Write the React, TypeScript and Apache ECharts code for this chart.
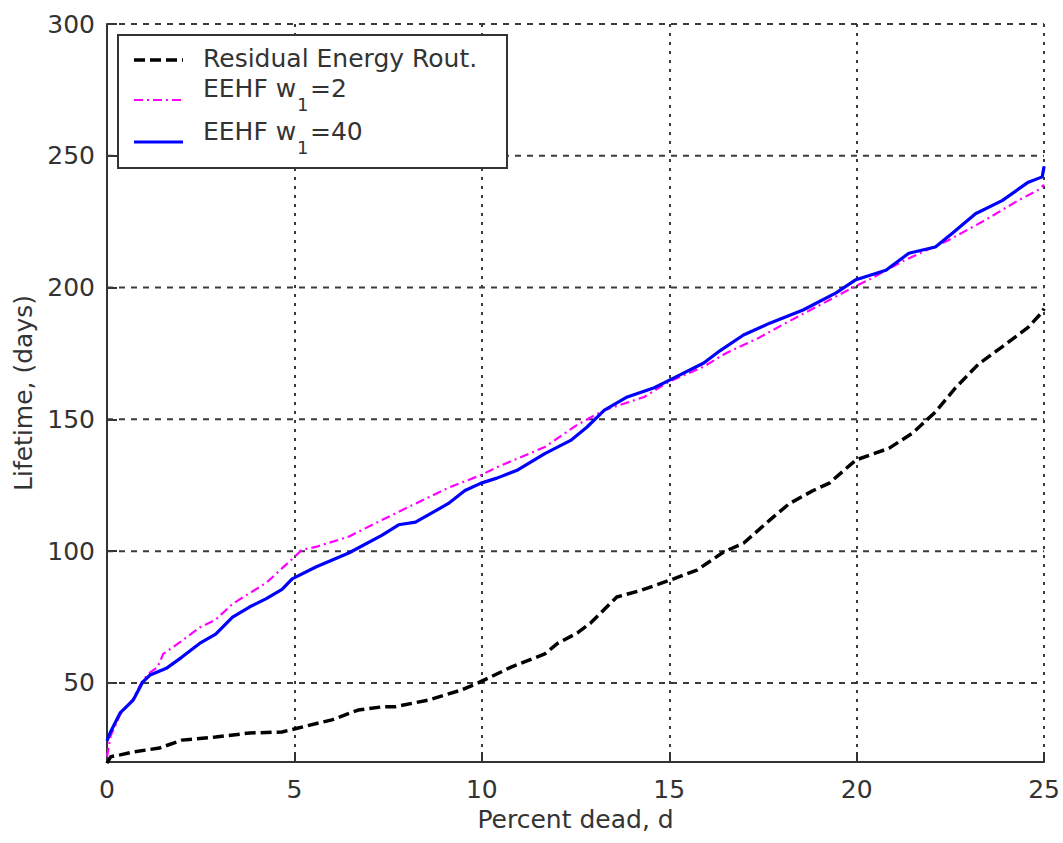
import React, { useEffect, useRef } from "react";
import * as echarts from "echarts";

const residualX = [0, 0.1, 0.35, 0.7, 1.4, 2.0, 2.9, 3.8, 4.67, 5.1, 6.0, 6.7, 7.33, 7.7, 8.57, 9.45, 9.9, 10.78, 11.68, 12.02, 12.55, 12.9, 13.6, 14.22, 15.02, 15.74, 16.45, 16.98, 17.78, 18.2, 18.84, 19.27, 19.98, 20.86, 21.49, 22.1, 22.64, 23.25, 23.88, 24.58, 24.95, 25];
const residualY = [19.5, 22, 22.7, 23.8, 25.3, 28.3, 29.5, 31, 31.4, 32.9, 36, 39.7, 40.9, 41, 43.5, 47.3, 50, 56, 61, 65, 69, 72.7, 82.6, 85, 89, 92.8, 99.7, 103, 113, 118, 123, 125.8, 134.6, 139, 144.8, 152.8, 162, 171, 177.5, 185, 190.7, 192];

const w2X = [0, 0.1, 0.35, 0.7, 0.95, 1.15, 1.35, 1.5, 2.0, 2.47, 2.9, 3.35, 4.25, 4.94, 5.2, 5.57, 6.45, 7.33, 8.23, 9.1, 9.98, 10.43, 11.68, 12.55, 13.27, 14.33, 15.02, 15.92, 16.5, 17.4, 18.1, 19.9, 20.33, 21.23, 22.45, 23.43, 24.3, 24.84, 25];
const w2Y = [22, 30, 38, 44, 51, 54, 56, 61, 66, 71, 74, 80, 88, 97, 100.5, 101.6, 105.5, 111.8, 118, 124, 128.9, 132, 139.5, 148, 153.5, 158.5, 164.5, 170, 175, 181, 186.5, 200, 203, 210, 218, 225.6, 233, 237, 239];

const w40X = [0, 0.08, 0.35, 0.7, 0.95, 1.15, 1.6, 2.0, 2.47, 2.9, 3.35, 3.8, 4.25, 4.67, 4.94, 5.57, 6.45, 7.33, 7.78, 8.23, 9.1, 9.55, 9.98, 10.4, 10.96, 11.68, 12.37, 12.8, 13.27, 13.88, 14.6, 15.02, 15.92, 16.35, 16.98, 17.68, 18.57, 19.45, 19.98, 20.78, 21.39, 22.1, 22.56, 23.17, 23.88, 24.58, 24.95, 25];
const w40Y = [28, 31, 38.6, 43.5, 50.3, 53, 55.7, 59.8, 65, 68.5, 75, 78.8, 82, 85.5, 89.5, 94, 99.3, 106, 110, 111, 118, 123, 125.8, 127.7, 130.8, 137, 142, 147, 153.5, 158.5, 162, 165, 171.4, 176, 182, 186.5, 191.5, 198, 203, 206.6, 213, 215.4, 220.7, 228, 233, 240, 242, 246];

const yTicks = [50, 100, 150, 200, 250, 300];
const legendNames = ["Residual Energy Rout.", "EEHF w", "1", "=2", "=40"];

const FONT = "DejaVu Sans";
const TXT = "#333";

function zip(xs: number[], ys: number[]) {
  return xs.map((x, i) => [x, ys[i]]);
}

export default function App() {
  const ref = useRef<HTMLDivElement>(null);
  useEffect(() => {
    document.body.style.margin = "0";
    const chart = echarts.init(ref.current!, null, { renderer: "svg" });

    const gridSeries = yTicks.map((y) => ({
      type: "line",
      data: [[0, y], [25, y]],
      showSymbol: false,
      silent: true,
      z: 1,
      lineStyle: { color: "#3a3a3a", width: 2, type: [6, 6] },
    }));

    const tx = 203;
    const mainText = (text: string, x: number, y: number, size = 25) => ({
      type: "text",
      x,
      y,
      z: 101,
      style: { text, fill: TXT, font: `${size}px "${FONT}"`, verticalAlign: "middle" },
    });
    const subX = 297;
    const afterX = 310;

    chart.setOption({
      animation: false,
      backgroundColor: "#fff",
      grid: { left: 107, right: 14, top: 24, bottom: 81 },
      xAxis: {
        type: "value",
        min: 0,
        max: 25,
        interval: 5,
        name: "Percent dead, d",
        nameLocation: "middle",
        nameGap: 40,
        nameTextStyle: { fontFamily: FONT, fontSize: 25, color: TXT },
        axisLine: { show: true, lineStyle: { color: "#333", width: 2 } },
        axisTick: { show: true, inside: true, length: 10, lineStyle: { color: "#333", width: 2 } },
        axisLabel: { fontFamily: FONT, fontSize: 25, color: TXT, margin: 15 },
        splitLine: { show: true, lineStyle: { color: "#3a3a3a", width: 2, type: [3, 6] } },
      },
      yAxis: {
        type: "value",
        min: 20,
        max: 300,
        name: "Lifetime, (days)",
        nameLocation: "middle",
        nameGap: 60,
        nameTextStyle: { fontFamily: FONT, fontSize: 25, color: TXT },
        axisLine: { show: true, lineStyle: { color: "#333", width: 2 } },
        axisTick: { show: true, inside: true, length: 10, customValues: yTicks, lineStyle: { color: "#333", width: 2 } },
        axisLabel: { fontFamily: FONT, fontSize: 25, color: TXT, margin: 12, customValues: yTicks },
        splitLine: { show: false },
      },
      series: [
        ...gridSeries,
        {
          name: "Residual Energy Rout.",
          type: "line",
          data: zip(residualX, residualY),
          showSymbol: false,
          z: 3,
          lineStyle: { color: "#000", width: 3.5, type: [11, 5] },
        },
        {
          name: "EEHF w1=2",
          type: "line",
          data: zip(w2X, w2Y),
          showSymbol: false,
          z: 4,
          lineStyle: { color: "#ff00ff", width: 2.2, type: [9, 4, 2, 4] },
        },
        {
          name: "EEHF w1=40",
          type: "line",
          data: zip(w40X, w40Y),
          showSymbol: false,
          z: 5,
          lineStyle: { color: "#0000ff", width: 3.2 },
        },
      ],
      graphic: [
        {
          type: "rect",
          shape: { x: 118, y: 35, width: 389, height: 133 },
          z: 100,
          style: { fill: "#fff", stroke: "#333", lineWidth: 2 },
        },
        { type: "line", z: 101, shape: { x1: 134, y1: 60, x2: 183, y2: 60 }, style: { stroke: "#000", lineWidth: 3.5, lineDash: [11, 5] } },
        { type: "line", z: 101, shape: { x1: 134, y1: 100, x2: 183, y2: 100 }, style: { stroke: "#ff00ff", lineWidth: 2.2, lineDash: [9, 4, 2, 4] } },
        { type: "line", z: 101, shape: { x1: 134, y1: 142, x2: 183, y2: 142 }, style: { stroke: "#0000ff", lineWidth: 3.2 } },
        mainText(legendNames[0], tx, 58.5),
        mainText(legendNames[1], tx, 88.5),
        mainText(legendNames[2], subX, 104, 18),
        mainText(legendNames[3], afterX, 88.5),
        mainText(legendNames[1], tx, 131.5),
        mainText(legendNames[2], subX, 147, 18),
        mainText(legendNames[4], afterX, 131.5),
      ],
    });
    return () => chart.dispose();
  }, []);
  return <div ref={ref} style={{ width: 1063, height: 843 }} />;
}
